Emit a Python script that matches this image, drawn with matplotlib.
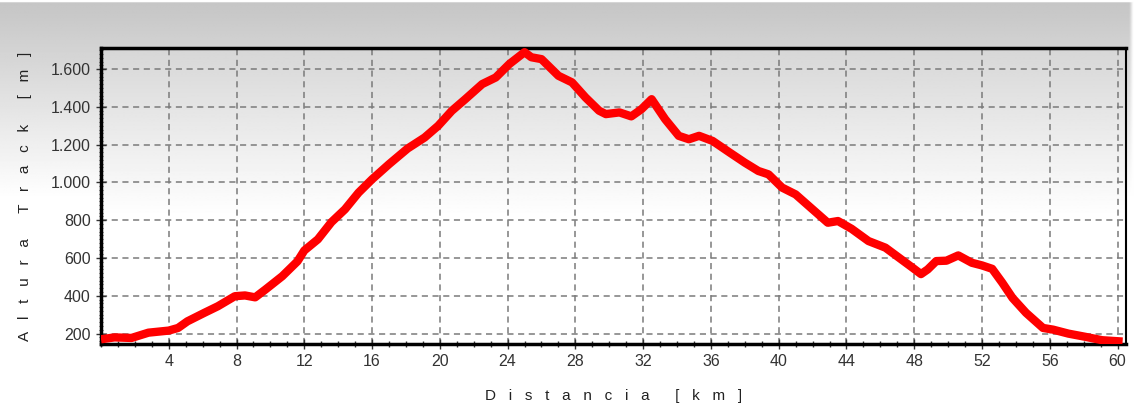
import numpy as np
import matplotlib
matplotlib.use('Agg')
import matplotlib.pyplot as plt
from matplotlib.ticker import MultipleLocator, FuncFormatter

# elevation profile
dist_km = [0.0, 0.8, 1.8, 2.8, 4.0, 4.55, 5.1, 6.1, 6.9, 7.9, 8.5, 9.1, 9.7, 10.7,
           11.6, 12.0, 12.8, 13.6, 14.4, 15.2, 16.0, 17.0, 18.1, 19.1, 19.9, 20.7,
           21.5, 22.5, 23.3, 24.1, 25.0, 25.4, 26.0, 27.0, 27.8, 28.6, 29.4, 29.8,
           30.6, 31.3, 31.9, 32.5, 33.3, 34.1, 34.7, 35.3, 36.1, 37.1, 38.0, 38.8,
           39.4, 40.2, 41.0, 42.0, 42.9, 43.5, 44.3, 45.3, 46.3, 47.1, 47.9, 48.4,
           48.8, 49.3, 49.9, 50.6, 51.4, 52.0, 52.6, 53.2, 53.8, 54.6, 55.6, 56.2,
           57.1, 58.1, 59.1, 60.3]
alt_m = [170, 180, 177, 205, 216, 230, 265, 310, 345, 398, 402, 392, 433, 504,
         583, 640, 699, 790, 858, 946, 1017, 1097, 1180, 1238, 1300, 1379,
         1441, 1521, 1556, 1627, 1690, 1663, 1653, 1565, 1530, 1450, 1380, 1362,
         1371, 1350, 1388, 1441, 1335, 1247, 1229, 1247, 1220, 1159, 1105, 1061,
         1043, 973, 937, 858, 787, 796, 755, 690, 655, 602, 549, 515,
         540, 584, 586, 614, 575, 561, 543, 469, 389, 310, 230, 221,
         200, 183, 165, 158]

xticks = [4, 8, 12, 16, 20, 24, 28, 32, 36, 40, 44, 48, 52, 56, 60]
yticks = [200, 400, 600, 800, 1000, 1200, 1400, 1600]

plt.rcParams['font.family'] = ['Liberation Sans', 'DejaVu Sans']

def spaced(words):
    # wide letter spacing like the original program labels
    return '      '.join('   '.join(w) for w in words)

fig = plt.figure(figsize=(11.37, 4.15), dpi=100)

# background gradient of the figure
bg = fig.add_axes([0, 0, 1, 1], zorder=-10)
g = np.clip(np.linspace(0.77, 1.25, 256), 0, 1)
g[:2] = 1.0
img = np.tile(g[:, None], (1, 200))
img[:, -1] = 1.0
bg.imshow(img, cmap='gray', vmin=0, vmax=1,
          aspect='auto', extent=[0, 1, 0, 1], origin='upper')
bg.axis('off')

ax = fig.add_axes([101/1137, 1 - 344/415, (1126-101)/1137, (344-48)/415])
ax.set_xlim(0, 60.5)
ax.set_ylim(145, 1712)

# background gradient of the plot area
ga = np.clip(np.linspace(0.84, 1.12, 256), 0, 1)
ax.imshow(np.tile(ga[:, None], (1, 2)), cmap='gray', vmin=0, vmax=1,
          aspect='auto', extent=[0, 60.5, 145, 1712], origin='upper', zorder=0)

ax.plot(dist_km, alt_m, color='#ff0000', lw=6, solid_joinstyle='round',
        solid_capstyle='butt', zorder=3)

ax.set_xticks(xticks)
ax.set_yticks(yticks)
ax.xaxis.set_minor_locator(MultipleLocator(1))
ax.yaxis.set_minor_locator(MultipleLocator(20))
ax.yaxis.set_major_formatter(FuncFormatter(lambda v, p: f'{int(v):,}'.replace(',', '.')))
ax.grid(True, which='major', color='#7a7a7a', linestyle=(0, (4, 3)), lw=1.1, zorder=1)
ax.tick_params(which='major', direction='inout', length=7, width=1, colors='#333333',
               labelsize=11.5, pad=4)
ax.tick_params(axis='x', which='minor', direction='inout', length=4, width=1, colors='#333333')
ax.tick_params(axis='y', which='minor', direction='inout', length=3, width=0.8, colors='#555555')
for s in ax.spines.values():
    s.set_linewidth(2.5)
    s.set_color('black')
ax.spines['right'].set_linewidth(1.5)

ax.set_xlabel(spaced(['Distancia', '[km]']), fontsize=11, color='#222222', labelpad=14)
ax.set_ylabel(spaced(['Altura', 'Track', '[m]']), fontsize=11, color='#222222', labelpad=13)

fig.savefig('out.png', dpi=100)
